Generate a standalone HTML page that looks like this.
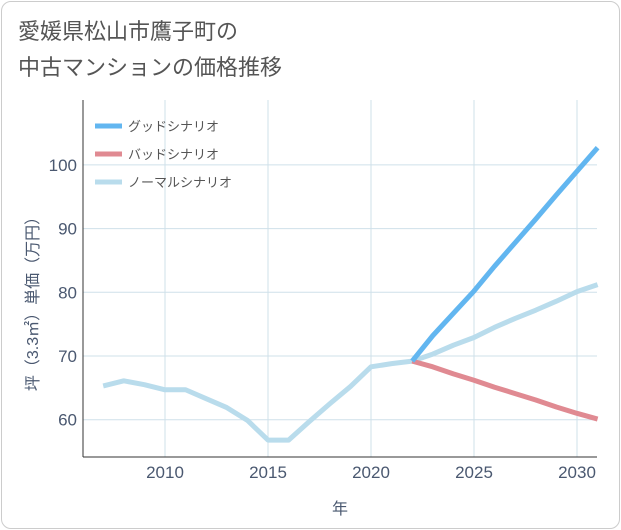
<!DOCTYPE html>
<html><head><meta charset="utf-8"><style>
body{margin:0;background:#fff;font-family:"Liberation Sans","Noto Sans CJK JP",sans-serif;}
.card{position:absolute;left:1px;top:1px;width:617px;height:526px;border:1px solid #ccc;border-radius:10px;background:#fff;}
.title{position:absolute;left:18px;top:14px;font-size:22px;line-height:36px;color:#555;}
</style></head><body>
<div class="card"></div>
<div class="title">愛媛県松山市鷹子町の<br>中古マンションの価格推移</div>
<svg id="c" width="621" height="530" style="position:absolute;left:0;top:0"></svg>
<script>
const years=[2007,2008,2009,2010,2011,2012,2013,2014,2015,2016,2017,2018,2019,2020,2021,2022,2023,2024,2025,2026,2027,2028,2029,2030,2031];
const normalVals=[65.3,66.1,65.5,64.7,64.7,63.3,61.9,59.9,56.8,56.8,59.7,62.5,65.2,68.3,68.8,69.2,70.3,71.7,72.9,74.5,75.9,77.2,78.6,80.1,81.2];
const futureYears=[2022,2023,2024,2025,2026,2027,2028,2029,2030,2031];
const goodVals=[69.2,73.2,76.7,80.2,84.1,87.8,91.5,95.3,99.0,102.7];
const badVals=[69.2,68.3,67.2,66.2,65.1,64.1,63.1,62.0,61.0,60.1];
const xTicks=[2010,2015,2020,2025,2030];
const yTicks=[60,70,80,90,100];
const ns="http://www.w3.org/2000/svg",svg=document.getElementById('c');
const L=83,R=597,T=100,B=457;
const xs=v=>165+(v-2010)*20.6;
const ys=v=>356-(v-70)*6.37;
function mk(t,a){const e=document.createElementNS(ns,t);for(const k in a)e.setAttribute(k,a[k]);svg.appendChild(e);return e;}
xTicks.forEach(t=>{const l=mk('line',{x1:xs(t),x2:xs(t),y1:T,y2:B,stroke:'#cfe0ea'});

const tx=mk('text',{x:xs(t),y:478,'text-anchor':'middle','font-size':17,fill:'#4a5870'});tx.textContent=t;
});
yTicks.forEach(t=>{const l=mk('line',{x1:L,x2:R,y1:ys(t),y2:ys(t),stroke:'#cfe0ea'});

const tx=mk('text',{x:77,y:ys(t)+6,'text-anchor':'end','font-size':17,fill:'#4a5870'});tx.textContent=t;
});
const ax=mk('line',{x1:L,x2:L,y1:T,y2:B,stroke:'#333'});
const bx=mk('line',{x1:L,x2:R,y1:B,y2:B,stroke:'#333'});
function line(xv,yv,c,n){const p=mk('polyline',{points:xv.map((x,i)=>xs(x)+','+ys(yv[i])).join(' '),fill:'none',stroke:c,'stroke-width':5,'stroke-linejoin':'round'});
}
line(years,normalVals,'#b9dcec','normal-scenario-line');
line(futureYears,badVals,'#e08a92','bad-scenario-line');
line(futureYears,goodVals,'#62b6f0','good-scenario-line');
const leg=[['グッドシナリオ','#62b6f0'],['バッドシナリオ','#e08a92'],['ノーマルシナリオ','#b9dcec']];
leg.forEach((d,i)=>{const y=126+i*28;const l=mk('line',{x1:95,x2:122,y1:y,y2:y,stroke:d[1],'stroke-width':5});

const t=mk('text',{x:128,y:y+5,'font-size':13,fill:'#555'});t.textContent=d[0];
});
const xt=mk('text',{x:340,y:514,'text-anchor':'middle','font-size':16,fill:'#4a5870'});xt.textContent='年';

const yt=mk('text',{x:0,y:0,'text-anchor':'middle','font-size':16,fill:'#4a5870',transform:'translate(38,300) rotate(-90)'});yt.textContent='坪（3.3㎡）単価（万円）';

</script>
</body></html>
